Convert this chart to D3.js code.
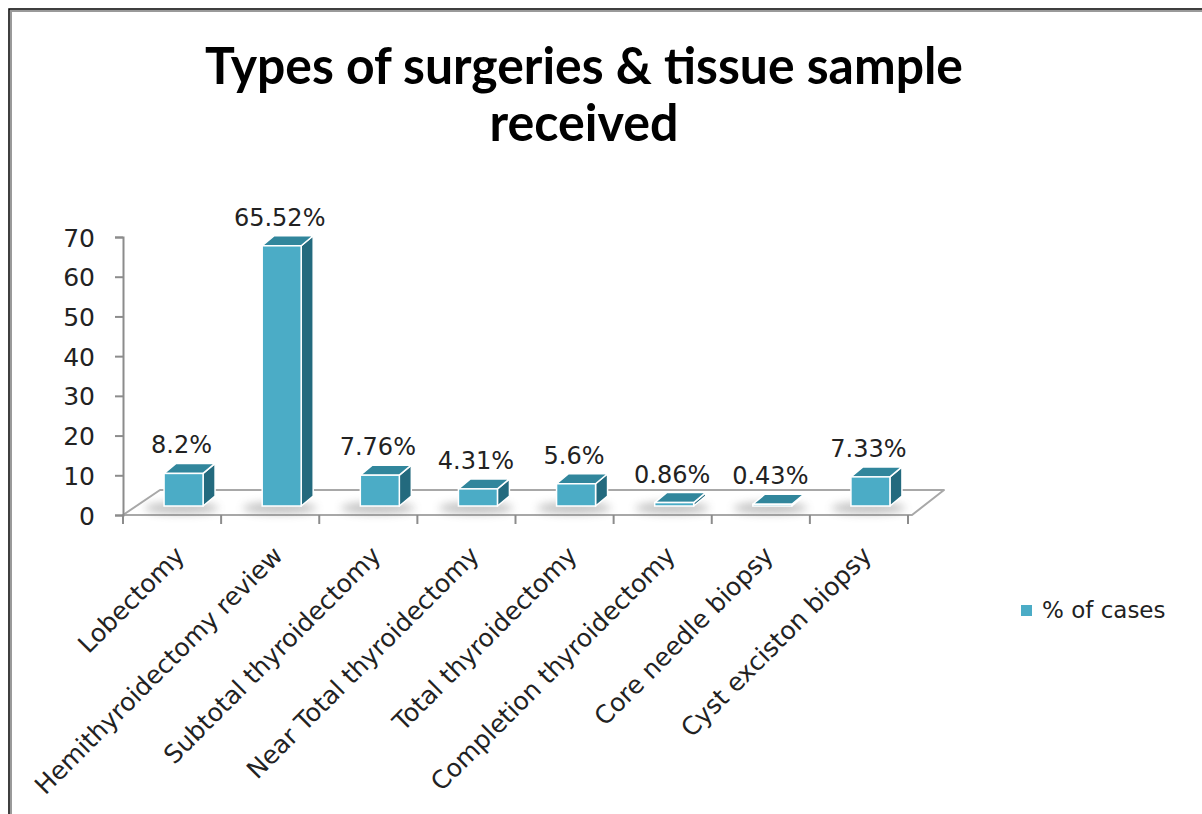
<!DOCTYPE html>
<html>
<head>
<meta charset="utf-8">
<script src="https://cdn.jsdelivr.net/npm/d3@7"></script>
<style>
  html, body { margin: 0; padding: 0; background: #fff; }
  svg { display: block; }
</style>
</head>
<body>
<script>
// ---- data ----
const categories = [
  "Lobectomy",
  "Hemithyroidectomy review",
  "Subtotal thyroidectomy",
  "Near Total thyroidectomy",
  "Total thyroidectomy",
  "Completion thyroidectomy",
  "Core needle biopsy",
  "Cyst exciston biopsy"
];
const values = [8.2, 65.52, 7.76, 4.31, 5.6, 0.86, 0.43, 7.33];
const valueLabels = ["8.2%", "65.52%", "7.76%", "4.31%", "5.6%", "0.86%", "0.43%", "7.33%"];
const yTicks = [0, 10, 20, 30, 40, 50, 60, 70];
const seriesName = "% of cases";
const titleLines = ["Types of surgeries & tissue sample", "received"];

// ---- layout ----
const W = 1202, H = 814;
const FONT = "'DejaVu Sans', sans-serif";
const svg = d3.select("body").append("svg").attr("width", W).attr("height", H);

const defs = svg.append("defs");
defs.append("filter").attr("id", "blur").attr("x", "-50%").attr("y", "-100%")
  .attr("width", "200%").attr("height", "300%")
  .append("feGaussianBlur").attr("stdDeviation", 4);

// frame
svg.append("rect").attr("x", 9).attr("y", 9).attr("width", W + 20).attr("height", H + 20)
  .attr("fill", "#fff").attr("stroke", "#000").attr("stroke-width", 1.5);
svg.append("rect").attr("x", 11).attr("y", 11).attr("width", W + 20).attr("height", H + 20)
  .attr("fill", "none").attr("stroke", "#9a9a9a").attr("stroke-width", 2);

// title
const titleWidths = [758, 189];
const titleY = [84, 141];
titleLines.forEach((t, i) => {
  svg.append("text").attr("x", 584).attr("y", titleY[i])
    .attr("text-anchor", "middle")
    .attr("font-family", "Lato, 'Open Sans', sans-serif")
    .attr("font-weight", "bold").attr("font-size", 51)
    .attr("fill", "#000")
    .attr("textLength", titleWidths[i]).attr("lengthAdjust", "spacingAndGlyphs")
    .text(t);
});

// scales
const x = d3.scaleBand().domain(categories).range([123, 908]).padding(0);
const y = d3.scaleLinear().domain([0, 70]).range([515, 237]);

const floorDepthL = { dx: 37, dy: -25 };
const floorDepthR = { dx: 32, dy: -25 };
const floorRight = 912;
const axisColor = "#8c8c8c";

// floor
const y0 = y(0);
svg.append("path")
  .attr("d", d3.line()([
    [x.range()[0], y0],
    [floorRight, y0],
    [floorRight + floorDepthR.dx, y0 + floorDepthR.dy],
    [x.range()[0] + floorDepthL.dx, y0 + floorDepthL.dy]
  ]) + "Z")
  .attr("fill", "#fff").attr("stroke", "#a8a8a8").attr("stroke-width", 2)
  .attr("stroke-linejoin", "round");

// y axis
const yAxis = d3.axisLeft(y).tickValues(yTicks).tickSize(8).tickPadding(20);
const yg = svg.append("g").attr("transform", `translate(${x.range()[0]},0)`).call(yAxis);
yg.select(".domain").attr("stroke", axisColor).attr("stroke-width", 2);
yg.selectAll(".tick line").attr("stroke", axisColor).attr("stroke-width", 2);
yg.selectAll(".tick text").attr("font-family", FONT).attr("font-size", 25)
  .attr("fill", "#222").attr("dy", "0.36em");

// x ticks (band boundaries)
const boundaries = categories.map(c => x(c)).concat([x.range()[1]]);
svg.append("g").selectAll("line").data(boundaries).join("line")
  .attr("x1", d => d).attr("x2", d => d)
  .attr("y1", y0).attr("y2", y0 + 9)
  .attr("stroke", axisColor).attr("stroke-width", 2);

// bars
const barW = 39;
const barShift = { dx: 11.5, dy: -9 };   // bar front placement within floor depth
const barDepth = { dx: 12, dy: -10 };
const frontColor = "#4BACC6", topColor = "#31869C", sideColor = "#236A7E";

const bars = svg.append("g").selectAll("g").data(categories).join("g");

bars.each(function (c, i) {
  const g = d3.select(this);
  const xl = x(c) + (x.bandwidth() - barW) / 2 + barShift.dx;
  const xr = xl + barW;
  const yb = y(0) + barShift.dy;
  const yt = y(values[i]) + barShift.dy;
  const dx = barDepth.dx, dy = barDepth.dy;

  // shadow
  g.append("ellipse")
    .attr("cx", (xl + xr) / 2 - 2).attr("cy", yb + 2)
    .attr("rx", barW * 0.95).attr("ry", 6)
    .attr("fill", "#7a7a7a").attr("opacity", 0.45)
    .attr("filter", "url(#blur)");

  // side face
  g.append("path").attr("d", d3.line()([[xr, yb], [xr + dx, yb + dy], [xr + dx, yt + dy], [xr, yt]]) + "Z")
    .attr("fill", sideColor).attr("stroke", "#fff").attr("stroke-width", 1.5).attr("stroke-linejoin", "round");
  // top face
  g.append("path").attr("d", d3.line()([[xl, yt], [xr, yt], [xr + dx, yt + dy], [xl + dx, yt + dy]]) + "Z")
    .attr("fill", topColor).attr("stroke", "#fff").attr("stroke-width", 1.5).attr("stroke-linejoin", "round");
  // front face
  g.append("rect").attr("x", xl).attr("y", yt).attr("width", barW).attr("height", Math.max(0, yb - yt))
    .attr("fill", frontColor).attr("stroke", "#fff").attr("stroke-width", 1.5);

  // value label
  g.append("text")
    .attr("x", (xl + xr) / 2 - 2).attr("y", yt + dy - 10)
    .attr("text-anchor", "middle")
    .attr("font-family", FONT).attr("font-size", 24).attr("fill", "#222")
    .text(valueLabels[i]);
});

// category labels
svg.append("g").selectAll("text").data(categories).join("text")
  .attr("transform", c => `translate(${x(c) + x.bandwidth() / 2 + 14},${y0 + 42}) rotate(-45)`)
  .attr("text-anchor", "end")
  .attr("font-family", FONT).attr("font-size", 25).attr("fill", "#222")
  .text(c => c);

// legend
const lg = svg.append("g").attr("transform", "translate(1021,605)");
lg.append("rect").attr("width", 11).attr("height", 11).attr("fill", frontColor);
lg.append("text").attr("x", 21).attr("y", 13)
  .attr("font-family", FONT).attr("font-size", 23).attr("fill", "#222")
  .text(seriesName);
</script>
</body>
</html>
